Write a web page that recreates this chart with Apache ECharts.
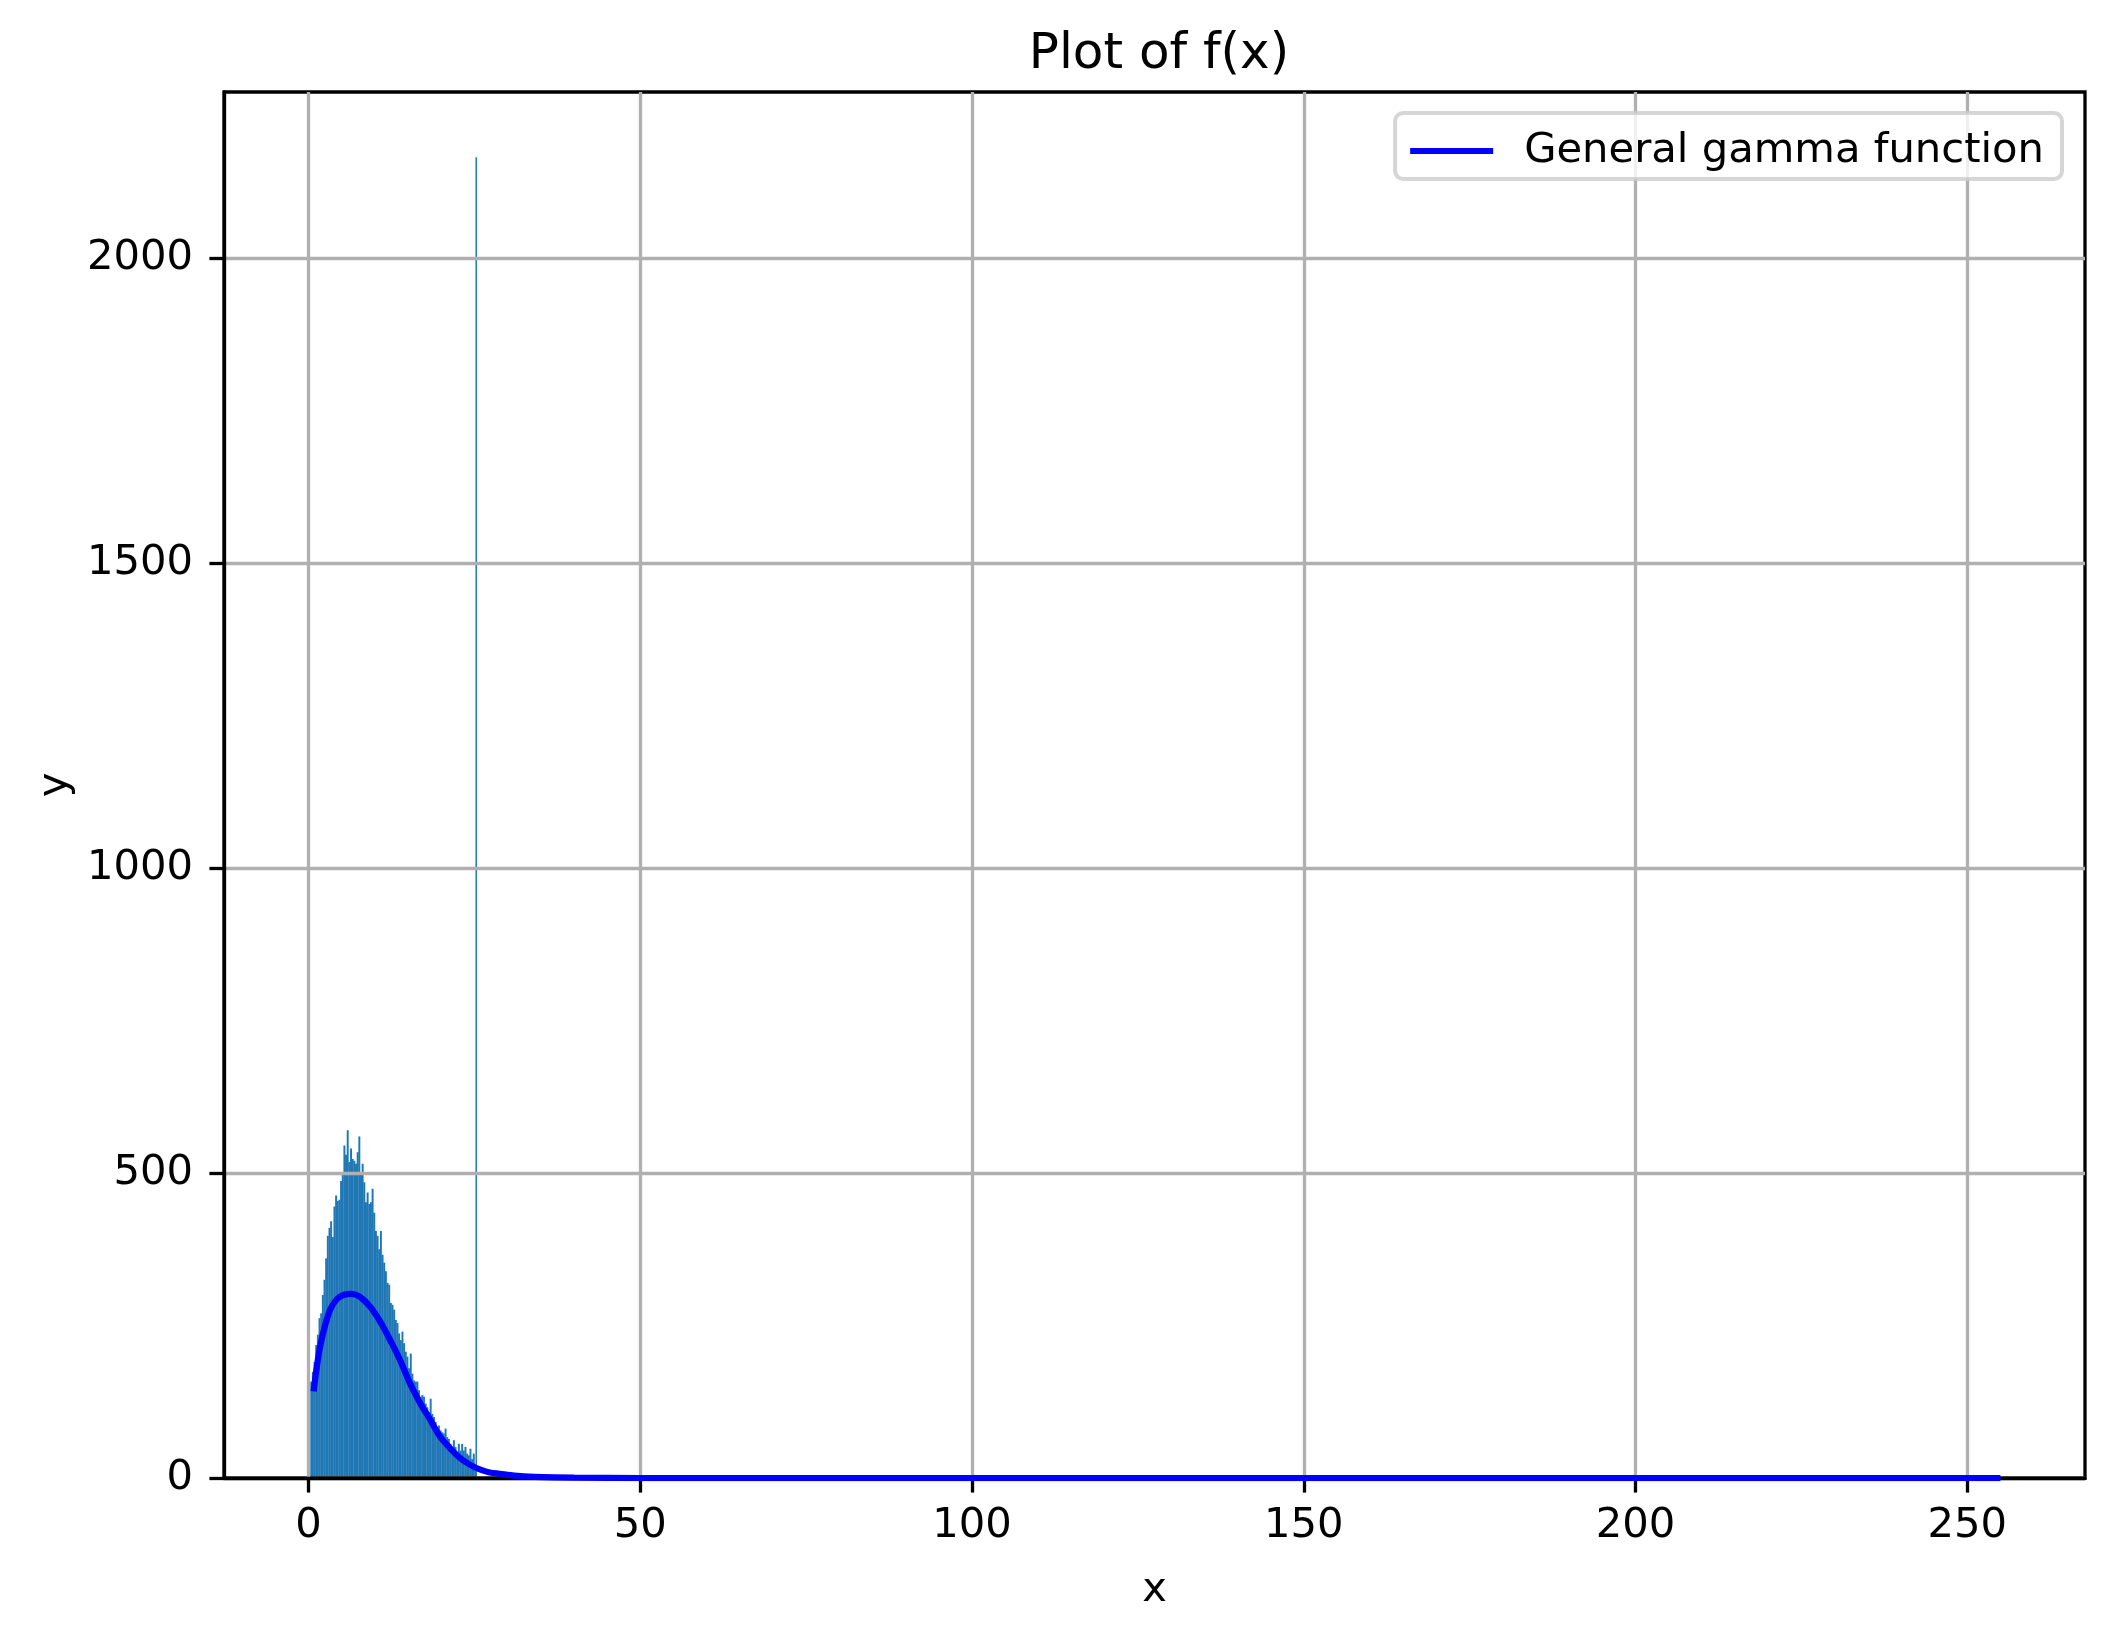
<!DOCTYPE html>
<html>
<head>
<meta charset="utf-8">
<title>Plot of f(x)</title>
<script src="https://cdn.jsdelivr.net/npm/echarts@6/dist/echarts.min.js"></script>
<style>
  html, body { margin: 0; padding: 0; background: #ffffff; }
  #chart { width: 2113px; height: 1638px; }
</style>
</head>
<body>
<div id="chart"></div>
<script>
// histogram: bins of 0.25 starting at 0.25, counts
const binStart = 0.25;
const binWidth = 0.25;
const histCounts = [
  158, 174, 190, 218, 235, 262, 270, 300, 325, 360,
  397, 410, 421, 395, 445, 463, 454, 456, 487, 501,
  545, 530, 570, 518, 540, 523, 520, 515, 534, 560,
  498, 515, 485, 452, 468, 449, 452, 474, 435, 405,
  397, 375, 405, 366, 353, 339, 320, 317, 287, 284,
  276, 259, 254, 237, 226, 240, 221, 207, 199, 180,
  204, 171, 160, 158, 158, 144, 133, 136, 133, 122,
  116, 108, 130, 105, 100, 92, 84, 86, 78, 75,
  73, 81, 67, 64, 56, 48, 62, 51, 42, 56,
  45, 56, 45, 51, 40, 37, 48, 31, 40, 18
];
// the single tall bin at the clipping value
const spikeX = 25.15;
const spikeWidth = 0.18;
const spikeCount = 2165;

// general gamma function curve
const curveX = [0.75, 1.25, 1.75, 2.5, 3.25, 4.25, 5.25, 6.5, 7.75, 9.25, 10.75, 12.25, 13.75,
  15.25, 16.8, 18.3, 19.8, 21.3, 22.8, 24.3, 25.8, 27.3, 28.8, 31, 34, 40, 50, 255];
const curveY = [142, 183, 216, 251, 276, 293, 300, 302, 297, 281, 257, 227, 194,
  156, 123, 96, 68, 49, 33, 22, 14, 9, 7, 4, 2, 0.5, 0, 0];

const xTicks = [0, 50, 100, 150, 200, 250];
const yTicks = [0, 500, 1000, 1500, 2000];

const FONT = 'DejaVu Sans';
const FS = 41.7;

let bars = histCounts.map((c, i) => [binStart + i * binWidth, binStart + (i + 1) * binWidth, c]);
bars.push([spikeX, spikeX + spikeWidth, spikeCount]);

const chart = echarts.init(document.getElementById('chart'), null, { renderer: 'canvas' });

const option = {
  backgroundColor: '#ffffff',
  animation: false,
  title: {
    text: 'Plot of f(x)',
    left: 1154,
    textAlign: 'center',
    top: 25,
    textStyle: { fontFamily: FONT, fontSize: 50, fontWeight: 'normal', color: '#000' }
  },
  legend: {
    right: 51,
    top: 113,
    orient: 'vertical',
    data: [{ name: 'General gamma function', icon: 'rect' }],
    itemWidth: 83,
    itemHeight: 6,
    padding: [17, 18, 7, 15],
    backgroundColor: 'rgba(255,255,255,0.8)',
    borderColor: 'rgba(204,204,204,0.8)',
    borderWidth: 4,
    borderRadius: 8,
    textStyle: { fontFamily: FONT, fontSize: FS, color: '#000', padding: [0, 0, 0, 26] }
  },
  grid: {
    left: 224,
    right: 28,
    top: 92,
    bottom: 160,
    show: true,
    borderColor: '#000',
    borderWidth: 3.3,
    backgroundColor: 'transparent'
  },
  xAxis: {
    type: 'value',
    min: -12.75,
    max: 267.75,
    name: 'x',
    nameLocation: 'middle',
    nameGap: 91,
    nameTextStyle: { fontFamily: FONT, fontSize: FS, color: '#000' },
    axisLine: { show: true, onZero: false, lineStyle: { color: '#000', width: 3.3 } },
    axisTick: { show: true, length: 14.6, customValues: xTicks, lineStyle: { color: '#000', width: 3.3 } },
    axisLabel: { customValues: xTicks, margin: 27, fontFamily: FONT, fontSize: FS, color: '#000',
      formatter: (v) => String(v) },
    splitLine: { show: true, lineStyle: { color: '#b0b0b0', width: 3.3 } }
  },
  yAxis: {
    type: 'value',
    min: 0,
    max: 2272,
    name: 'y',
    nameLocation: 'middle',
    nameGap: 139,
    nameTextStyle: { fontFamily: FONT, fontSize: FS, color: '#000' },
    axisLine: { show: true, onZero: false, lineStyle: { color: '#000', width: 3.3 } },
    axisTick: { show: true, length: 14.6, customValues: yTicks, lineStyle: { color: '#000', width: 3.3 } },
    axisLabel: { customValues: yTicks, margin: 31, fontFamily: FONT, fontSize: FS, color: '#000',
      formatter: (v) => String(v) },
    splitLine: { show: true, lineStyle: { color: '#b0b0b0', width: 3.3 } }
  },
  series: [
    {
      type: 'custom',
      name: 'hist',
      z: -1,
      data: bars,
      encode: { x: [0, 1], y: 2 },
      renderItem: function (params, api) {
        const top = api.coord([api.value(0), api.value(2)]);
        const bottom = api.coord([api.value(1), 0]);
        // slight overlap so neighbouring bins do not leave pale seams
        return {
          type: 'rect',
          shape: { x: top[0], y: top[1], width: bottom[0] - top[0] + 0.3, height: bottom[1] - top[1] },
          style: { fill: '#1f77b4' }
        };
      }
    },
    {
      type: 'line',
      name: 'General gamma function',
      data: curveX.map((x, i) => [x, curveY[i]]),
      smooth: 0.3,
      showSymbol: false,
      color: '#0000ff',
      lineStyle: { color: '#0000ff', width: 6.25 }
    }
  ]
};

chart.setOption(option);
</script>
</body>
</html>
